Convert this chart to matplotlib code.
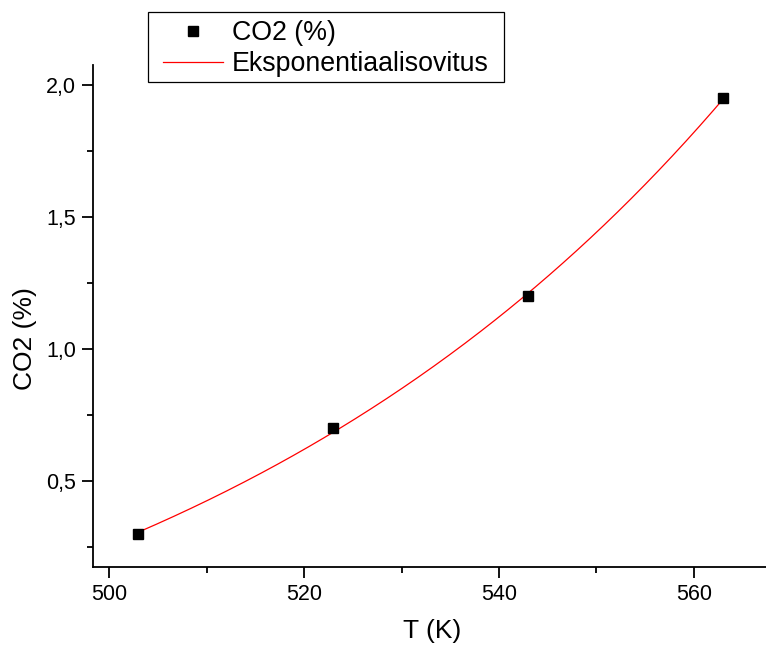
import numpy as np
import matplotlib
matplotlib.use("Agg")
import matplotlib.pyplot as plt
from matplotlib.patches import Rectangle
from matplotlib.ticker import MultipleLocator, FuncFormatter

plt.rcParams['font.family'] = ['Liberation Sans', 'DejaVu Sans']

# data
temps = [503, 523, 543, 563]          # T (K)
co2 = [0.30, 0.70, 1.20, 1.95]        # CO2 (%)


def exp_fit(x, y):
    """Fit y = y0 + A*exp(x/t) by scanning t and solving y0, A by least squares"""
    x = np.asarray(x, float)
    y = np.asarray(y, float)
    best = None
    for t in np.linspace(5, 400, 4000):
        M = np.column_stack([np.ones_like(x), np.exp((x - x[0]) / t)])
        coef, *_ = np.linalg.lstsq(M, y, rcond=None)
        err = np.sum((M @ coef - y) ** 2)
        if best is None or err < best[0]:
            best = (err, t, coef)
    _, t, (y0, a) = best
    return lambda xx: y0 + a * np.exp((xx - x[0]) / t)


fit = exp_fit(temps, co2)
x_fit = np.linspace(temps[0], temps[-1], 300)

W, H = 766, 653
fig = plt.figure(figsize=(W / 100, H / 100), dpi=100)
ax = fig.add_axes([0.121, 0.1317, 0.879, 0.7688])

ax.plot(x_fit, fit(x_fit), color='red', lw=0.9, label='Eksponentiaalisovitus', zorder=2)
ax.plot(temps, co2, 's', color='black', ms=7.8, label='CO2 (%)', zorder=3)

ax.set_xlim(498.3, 567.4)
ax.set_ylim(0.174, 2.076)

ax.xaxis.set_major_locator(MultipleLocator(20))
ax.xaxis.set_minor_locator(MultipleLocator(10))
ax.yaxis.set_major_locator(MultipleLocator(0.5))
ax.yaxis.set_minor_locator(MultipleLocator(0.25))
ax.yaxis.set_major_formatter(FuncFormatter(lambda v, p: f"{v:.1f}".replace('.', ',')))

for s in ['top', 'right']:
    ax.spines[s].set_visible(False)
for s in ['left', 'bottom']:
    ax.spines[s].set_linewidth(1.3)

ax.tick_params(which='major', direction='out', length=8, width=1.3, labelsize=15.5, pad=4)
ax.tick_params(which='minor', direction='out', length=4.5, width=1.3)

ax.set_xlabel('T (K)', fontsize=19)
ax.set_ylabel('CO2 (%)', fontsize=19)
ax.xaxis.set_label_coords(0.5035, -0.104)
ax.yaxis.set_label_coords(-0.082, 0.456)

# legend box drawn separately so its padding can match the reference
fig.patches.append(Rectangle((148 / W, 1 - 82 / H), 356 / W, 70 / H,
                             transform=fig.transFigure, fill=False,
                             edgecolor='black', lw=0.9))

handles, labels = ax.get_legend_handles_labels()
leg = ax.legend(handles[::-1], labels[::-1], loc='upper left',
                bbox_to_anchor=(163 / W, 1 - 20 / H), bbox_transform=fig.transFigure,
                borderaxespad=0, borderpad=0, fontsize=19.3, frameon=False,
                handlelength=2.25, handletextpad=0.33,
                labelspacing=0.2, markerscale=0.95)

fig.savefig('out.png', dpi=100)
